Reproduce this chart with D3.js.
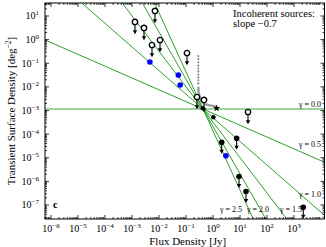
<!DOCTYPE html>
<html>
<head>
<meta charset="utf-8">
<script src="https://cdn.jsdelivr.net/npm/d3@7/dist/d3.min.js"></script>
<style>
  body { margin: 0; background: #fff; }
  text { font-family: "Liberation Serif", "DejaVu Serif", serif; fill: #000; }
</style>
</head>
<body>
<svg id="chart" width="326" height="247"></svg>
<script>
// power-law lines N ~ S^-gamma through a common pivot
const gammas = [0.0, 0.5, 1.0, 1.5, 2.0, 2.5];
const pivot = { s: 0.427, n: 1.15e-3 };

// upper limits, open circles
const openS = [7.1e-3, 1.29e-3, 2.78e-3, 1.09e-2, 5.5e-3, 0.109, 0.255, 0.464, 19.8];
const openN = [16.3, 5.57, 3.1, 0.96, 0.59, 0.27, 3.7e-3, 2.8e-3, 8.6e-4];

// upper limits, filled black
const filledS = [2.1, 7.5, 9.2, 16.7, 2210];
const filledN = [4.5e-5, 6.7e-5, 1.6e-6, 3.7e-7, 8.0e-8];

// detections
const blackS = [1.03, 0.42];
const blackN = [5.2e-4, 1.24e-3];
const starS = [1.37];
const starN = [1.24e-3];
const blueS = [4.6e-3, 0.052, 0.061, 3.0];
const blueN = [0.113, 0.032, 0.012, 1.22e-5];

// survey curve (grey)
const curveS = [0.286, 0.29, 0.311, 0.381, 0.55, 1.37];
const curveN = [0.0102, 6.5e-3, 4.5e-3, 2.36e-3, 1.8e-3, 1.45e-3];
const greyDotN = [0.2, 0.15, 0.11, 0.08, 0.06, 0.045, 0.033, 0.025, 0.019, 0.014];

const xExp = [-6, -5, -4, -3, -2, -1, 0, 1, 2, 3];
const yExp = [-7, -6, -5, -4, -3, -2, -1, 0, 1];

const margin = { left: 45, right: 324.5, top: 3, bottom: 219 };
const svg = d3.select('#chart');

const x = d3.scaleLog()
  .domain([10 ** -6.222, 10 ** 4.13])
  .range([margin.left, margin.right]);
const y = d3.scaleLog()
  .domain([10 ** -7.593, 10 ** 1.55])
  .range([margin.bottom, margin.top]);

svg.append('clipPath').attr('id', 'clip')
  .append('rect')
    .attr('x', margin.left).attr('y', margin.top)
    .attr('width', margin.right - margin.left)
    .attr('height', margin.bottom - margin.top);

const plot = svg.append('g').attr('clip-path', 'url(#clip)');

// green lines
const [s0, s1] = x.domain();
plot.selectAll('line.gamma')
  .data(gammas)
  .enter()
  .append('line')
    .attr('class', 'gamma')
    .attr('x1', x(s0))
    .attr('x2', x(s1))
    .attr('y1', g => y(pivot.n * Math.pow(s0 / pivot.s, -g)))
    .attr('y2', g => y(pivot.n * Math.pow(s1 / pivot.s, -g)))
    .attr('stroke', d => d === 0 ? '#7cc47c' : '#2e9e2e')
    .attr('stroke-width', d => d === 0 ? 1.6 : 1);

// grey survey curve
plot.append('path')
  .datum(curveS.map((s, i) => [s, curveN[i]]))
  .attr('d', d3.line().x(d => x(d[0])).y(d => y(d[1])).curve(d3.curveMonotoneY))
  .attr('fill', 'none')
  .attr('stroke', '#999')
  .attr('stroke-width', 2.4);

plot.selectAll('circle.grey')
  .data(greyDotN)
  .enter()
  .append('circle')
    .attr('class', 'grey')
    .attr('cx', x(curveS[0]))
    .attr('cy', d => y(d))
    .attr('r', 1.1)
    .attr('fill', '#8a8a8a');

function arrow(sel, r) {
  sel.append('line')
    .attr('x1', 0).attr('x2', 0)
    .attr('y1', r).attr('y2', r + 7)
    .attr('stroke', '#000').attr('stroke-width', 1.1);
  sel.append('path')
    .attr('d', `M-2.2,${r + 5}L2.2,${r + 5}L0,${r + 9}Z`)
    .attr('fill', '#000');
}

// filled upper limits
const fl = plot.selectAll('g.filled')
  .data(filledS.map((s, i) => [s, filledN[i]]))
  .enter()
  .append('g')
    .attr('class', 'filled')
    .attr('transform', d => `translate(${x(d[0])},${y(d[1])})`);
arrow(fl, 2.5);
fl.append('circle').attr('r', 2.8).attr('fill', '#000');

// open upper limits
const ol = plot.selectAll('g.open')
  .data(openS.map((s, i) => [s, openN[i]]))
  .enter()
  .append('g')
    .attr('class', 'open')
    .attr('transform', d => `translate(${x(d[0])},${y(d[1])})`);
arrow(ol, 3.3);
ol.append('circle').attr('r', 2.7).attr('fill', '#fff')
  .attr('stroke', '#000').attr('stroke-width', 1.4);

plot.selectAll('circle.black')
  .data(blackS.map((s, i) => [s, blackN[i]]))
  .enter()
  .append('circle')
    .attr('class', 'black')
    .attr('cx', d => x(d[0])).attr('cy', d => y(d[1]))
    .attr('r', 2.3).attr('fill', '#000');

plot.selectAll('path.star')
  .data(starS.map((s, i) => [s, starN[i]]))
  .enter()
  .append('path')
    .attr('class', 'star')
    .attr('transform', d => `translate(${x(d[0])},${y(d[1])})`)
    .attr('d', d3.symbol(d3.symbolStar, 16))
    .attr('fill', '#000');

plot.selectAll('circle.blue')
  .data(blueS.map((s, i) => [s, blueN[i]]))
  .enter()
  .append('circle')
    .attr('class', 'blue')
    .attr('cx', d => x(d[0])).attr('cy', d => y(d[1]))
    .attr('r', 2.8).attr('fill', '#0000ff');

// frame and ticks
svg.append('rect')
  .attr('x', margin.left).attr('y', margin.top)
  .attr('width', margin.right - margin.left)
  .attr('height', margin.bottom - margin.top)
  .attr('fill', 'none').attr('stroke', '#000').attr('stroke-width', 1);

const ticks = svg.append('g').attr('stroke', '#000').attr('stroke-width', 0.8);
const minors = [2, 3, 4, 5, 6, 7, 8, 9];
const xAll = [];
[-7, ...xExp].forEach(e => {
  xAll.push({ v: 10 ** e, len: 4 });
  minors.forEach(m => xAll.push({ v: m * 10 ** e, len: 2 }));
});
xAll.filter(t => t.v >= s0 && t.v <= s1).forEach(t => {
  const px = x(t.v);
  ticks.append('line').attr('x1', px).attr('x2', px)
    .attr('y1', margin.bottom).attr('y2', margin.bottom - t.len);
  ticks.append('line').attr('x1', px).attr('x2', px)
    .attr('y1', margin.top).attr('y2', margin.top + t.len);
});
const [n0, n1] = y.domain();
const yAll = [];
[-8, ...yExp].forEach(e => {
  yAll.push({ v: 10 ** e, len: 4 });
  minors.forEach(m => yAll.push({ v: m * 10 ** e, len: 2 }));
});
yAll.filter(t => t.v >= n0 && t.v <= n1).forEach(t => {
  const py = y(t.v);
  ticks.append('line').attr('y1', py).attr('y2', py)
    .attr('x1', margin.left).attr('x2', margin.left + t.len);
  ticks.append('line').attr('y1', py).attr('y2', py)
    .attr('x1', margin.right).attr('x2', margin.right - t.len);
});

const minus = e => (e < 0 ? '\u2212' + Math.abs(e) : String(e));

const xl = svg.selectAll('text.xt')
  .data(xExp)
  .enter()
  .append('text')
    .attr('class', 'xt')
    .attr('x', e => x(10 ** e))
    .attr('y', 232)
    .attr('text-anchor', 'middle')
    .attr('font-size', 10);
xl.append('tspan').text('10');
xl.append('tspan').attr('dy', -4).attr('font-size', 7).text(minus);

const yl = svg.selectAll('text.yt')
  .data(yExp)
  .enter()
  .append('text')
    .attr('class', 'yt')
    .attr('x', 39)
    .attr('y', e => y(10 ** e) + 3.5)
    .attr('text-anchor', 'end')
    .attr('font-size', 10);
yl.append('tspan').text('10');
yl.append('tspan').attr('dy', -4).attr('font-size', 7).text(minus);

svg.append('text')
  .attr('x', (margin.left + margin.right) / 2 + 3)
  .attr('y', 244.5)
  .attr('text-anchor', 'middle')
  .attr('font-size', 11)
  .text('Flux Density [Jy]');

const yt = svg.append('text')
  .attr('transform', `translate(15,${(margin.top + margin.bottom) / 2}) rotate(-90)`)
  .attr('text-anchor', 'middle')
  .attr('font-size', 11);
yt.append('tspan').text('Transient Surface Density [deg');
yt.append('tspan').attr('dy', -4).attr('font-size', 7.5).text('\u22122');
yt.append('tspan').attr('dy', 4).text(']');

// annotations
svg.append('text').attr('x', 233).attr('y', 17).attr('font-size', 10.5)
  .text('Incoherent sources:');
svg.append('text').attr('x', 233).attr('y', 26.5).attr('font-size', 10.5)
  .text('slope \u22120.7');
svg.append('text').attr('x', 53).attr('y', 207.5).attr('font-size', 10.5)
  .attr('font-weight', 'bold').text('c');

const gammaLabels = [
  { g: '0.0', x: 321, y: 107, anchor: 'end' },
  { g: '0.5', x: 321, y: 147, anchor: 'end' },
  { g: '1.0', x: 321, y: 197, anchor: 'end' },
  { g: '2.5', x: 220, y: 212, anchor: 'start' },
  { g: '2.0', x: 247, y: 212, anchor: 'start' },
  { g: '1.5', x: 280, y: 212, anchor: 'start' }
];
svg.selectAll('text.gl')
  .data(gammaLabels)
  .enter()
  .append('text')
    .attr('class', 'gl')
    .attr('x', d => d.x).attr('y', d => d.y)
    .attr('text-anchor', d => d.anchor)
    .attr('font-size', 8)
    .text(d => `\u03b3 = ${d.g}`);
</script>
</body>
</html>
